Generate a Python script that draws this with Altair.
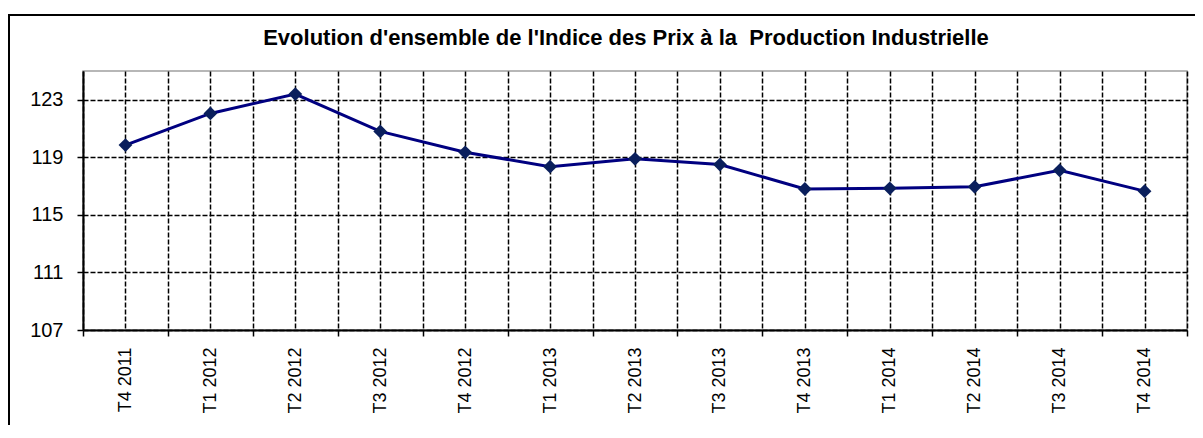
import altair as alt
import pandas as pd

quarters = ["T4 2011", "T1 2012", "T2 2012", "T3 2012", "T4 2012", "T1 2013", "T2 2013",
            "T3 2013", "T4 2013", "T1 2014", "T2 2014", "T3 2014", "T4 2014"]
values = [119.85, 122.05, 123.4, 120.8, 119.35, 118.35, 118.9, 118.5, 116.8, 116.85, 116.95, 118.1, 116.65]
y_ticks = [107, 111, 115, 119, 123]
y_domain = [107, 125]
title_text = "Evolution d'ensemble de l'Indice des Prix à la\u00a0 Production Industrielle"

n = len(quarters)
df = pd.DataFrame({"idx": list(range(n)), "quarter": quarters, "value": values})
title_df = pd.DataFrame({"title": [title_text]})

x_values = [i * 0.5 - 0.5 for i in range(2 * n + 1)]
label_list = "[" + ",".join("'" + q + "'" for q in quarters) + "]"
label_expr = f"datum.value % 1 === 0 ? {label_list}[datum.value] : ''"

FONT = "Liberation Sans"

x_enc = alt.X(
    "idx:Q",
    scale=alt.Scale(domain=[-0.5, n - 0.5], nice=False, zero=False),
    axis=alt.Axis(
        title=None,
        values=x_values,
        labelExpr=label_expr,
        labelAngle=-90,
        labelAlign="right",
        labelBaseline="middle",
        labelFont=FONT,
        labelFontSize=18,
        labelColor="black",
        labelPadding=11,
        labelOverlap=False,
        labelFlush=False,
        labelBound=False,
        domainColor="black",
        domainWidth=2,
        tickColor="black",
        tickWidth=1.5,
        tickSize=6,
        tickOpacity=alt.condition("datum.value % 1 !== 0", alt.value(1), alt.value(0)),
        grid=True,
        gridColor="black",
        gridWidth=1.5,
        gridDash=[5, 2],
        gridOpacity=1,
    ),
)

y_enc = alt.Y(
    "value:Q",
    scale=alt.Scale(domain=y_domain, nice=False, zero=False),
    axis=alt.Axis(
        title=None,
        values=y_ticks,
        labelFont=FONT,
        labelFontSize=20,
        labelColor="black",
        labelPadding=14,
        domainColor="black",
        domainWidth=2,
        tickColor="black",
        tickWidth=1.5,
        tickSize=6,
        grid=True,
        gridColor="black",
        gridWidth=1.5,
        gridDash=[5, 2],
        gridOpacity=1,
    ),
)

border = alt.Chart(title_df).mark_rect(
    fillOpacity=0, stroke="black", strokeWidth=2
).encode(
    x=alt.value(-74), x2=alt.value(1200), y=alt.value(-56), y2=alt.value(500)
)

title = alt.Chart(title_df).mark_text(
    font=FONT, fontWeight="bold", fontSize=22, align="center",
    baseline="alphabetic", color="black"
).encode(
    x=alt.value(543), y=alt.value(-26), text="title:N"
)

line = alt.Chart(df).mark_line(color="#000080", strokeWidth=3).encode(x=x_enc, y=y_enc)
points = alt.Chart(df).mark_point(
    shape="diamond", filled=True, size=190, color="#0a1f5c", opacity=1
).encode(x=x_enc, y=y_enc)

chart = alt.layer(border, title, line, points).properties(
    width=1104,
    height=259,
    autosize=alt.AutoSizeParams(type="none"),
    padding={"left": 75, "top": 63, "right": 8, "bottom": 95},
    background="white",
).configure_view(stroke="#a0a0a0", strokeWidth=1.5)

chart.save("out.html", embed_options={"renderer": "svg", "actions": False})
